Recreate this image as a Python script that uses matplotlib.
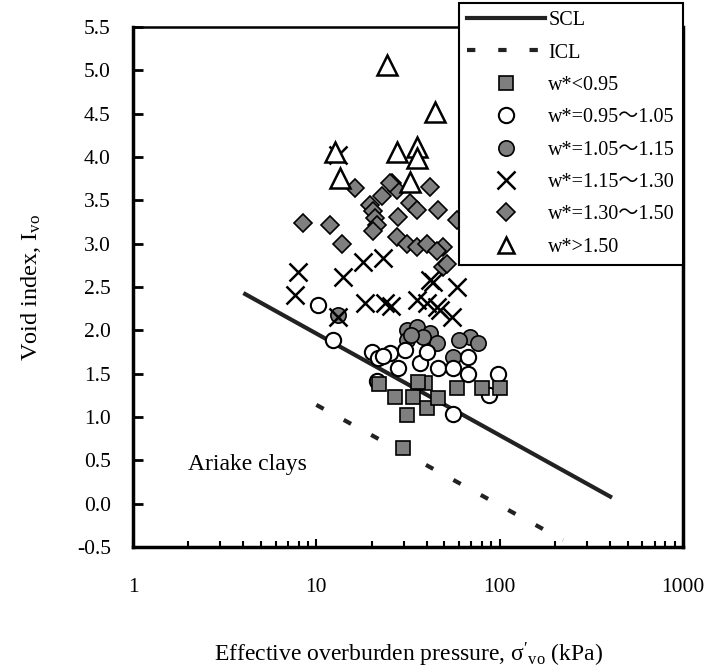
import numpy as np
import matplotlib
matplotlib.use('Agg')
import matplotlib.pyplot as plt
from matplotlib.lines import Line2D

plt.rcParams['font.family'] = ['Liberation Serif', 'Noto Sans CJK JP', 'DejaVu Sans']
plt.rcParams['mathtext.fontset'] = 'custom'
plt.rcParams['mathtext.rm'] = 'Liberation Serif'

# lines (end points)
scl_x = [4.0, 410]
scl_y = [2.43, 0.07]
icl_x = [10, 222]
icl_y = [1.14, -0.42]

# w* < 0.95
sq_x = [26.9, 33.7, 39, 40.2, 31.3, 58.6, 80, 100, 29.8, 36, 46, 22]
sq_y = [1.23, 1.23, 1.39, 1.10, 1.02, 1.33, 1.34, 1.33, 0.64, 1.40, 1.22, 1.38]

# w* = 0.95~1.05
wc_x = [12.3, 20.2, 21.7, 25.2, 30.4, 36.6, 28, 46, 55.7, 67.3, 67.3, 98, 88, 21.4, 55.7, 10.2, 23, 40]
wc_y = [1.89, 1.75, 1.68, 1.74, 1.77, 1.62, 1.57, 1.57, 1.57, 1.69, 1.50, 1.50, 1.25, 1.42, 1.04, 2.29, 1.70, 1.75]

# w* = 1.05~1.15
gc_x = [31.3, 35.4, 41.7, 45.5, 31.3, 55.7, 68.8, 76, 13.1, 38, 60, 33]
gc_y = [2.0, 2.04, 1.97, 1.85, 1.89, 1.69, 1.92, 1.85, 2.18, 1.92, 1.89, 1.95]

# w* = 1.15~1.30
cr_x = [13.1, 7.95, 14.0, 18.0, 23.1, 7.65, 18.4, 23.7, 13.1, 35.4, 41.7, 45.5, 43.3, 58.6, 47.3, 55, 40.2, 25.5]
cr_y = [4.02, 2.67, 2.61, 2.79, 2.84, 2.41, 2.32, 2.31, 2.15, 2.35, 2.58, 2.27, 2.56, 2.50, 2.23, 2.15, 2.31, 2.28]

# w* = 1.30~1.50
dm_x = [8.5, 11.9, 13.8, 16.3, 22.8, 25.9, 27.6, 19.5, 20.5, 21.0, 21.5, 20.5, 28, 32.5, 35.4, 41.7,
        46, 27.6, 31.2, 35.4, 40.2, 49, 49, 58.6, 51.6, 45.5, 25.2]
dm_y = [3.24, 3.21, 3.0, 3.64, 3.55, 3.70, 3.62, 3.45, 3.38, 3.30, 3.22, 3.15, 3.31, 3.47, 3.39, 3.65,
        3.39, 3.08, 3.0, 2.96, 3.0, 2.96, 2.73, 3.27, 2.77, 2.92, 3.70]

# w* > 1.50
tr_x = [24.3, 44.4, 12.6, 27.6, 35.4, 35.4, 13.5, 32.5]
tr_y = [5.06, 4.52, 4.06, 4.06, 4.11, 3.99, 3.76, 3.71]

legend_labels = ['SCL', 'ICL', 'w*<0.95', 'w*=0.95～1.05', 'w*=1.05～1.15',
                 'w*=1.15～1.30', 'w*=1.30～1.50', 'w*>1.50']

grey = '#7f7f7f'
icl_style = (0, (2.0, 5.5))

fig = plt.figure(figsize=(7.17, 6.69), dpi=100)
ax = fig.add_axes([133/717, 1-547/669, 550/717, 520/669])

ax.plot(scl_x, scl_y, color='#222222', lw=3, solid_capstyle='butt')
ax.plot(icl_x, icl_y, color='#222222', lw=3, linestyle=icl_style)

ax.plot(dm_x, dm_y, 'D', ms=9, mfc=grey, mec='black', mew=1.2, ls='none')
ax.plot(gc_x, gc_y, 'o', ms=11, mfc=grey, mec='black', mew=1.2, ls='none')
ax.plot(wc_x, wc_y, 'o', ms=11, mfc='white', mec='black', mew=1.5, ls='none')
ax.plot(sq_x, sq_y, 's', ms=10, mfc=grey, mec='black', mew=1.2, ls='none')
ax.plot(cr_x, cr_y, 'x', ms=13, mec='black', mew=1.8, ls='none')
ax.plot(tr_x, tr_y, '^', ms=14, mfc='white', mec='black', mew=1.8, ls='none')

ax.text(2.0, 0.45, 'Ariake clays', fontsize=17, ha='left', va='center')

ax.set_xscale('log')
ax.set_xlim(1, 1000)
ax.set_ylim(-0.5, 5.5)
ax.set_yticks(np.arange(-0.5, 5.51, 0.5))
ax.set_yticklabels(['%.1f' % v for v in np.arange(-0.5, 5.51, 0.5)])
ax.set_xticks([1, 10, 100, 1000])
ax.set_xticklabels(['1', '10', '100', '1000'])

for s in ax.spines.values():
    s.set_linewidth(2.5)
ax.spines['top'].set_linewidth(1.8)
ax.tick_params(axis='y', direction='in', length=7, width=2, labelsize=15.5, pad=16)
ax.tick_params(axis='x', which='major', direction='in', length=6, width=1.5, labelsize=15.5, pad=22)
ax.tick_params(axis='x', which='minor', direction='in', length=4, width=1.5)

ax.set_ylabel(r'Void index, $\mathregular{I_{vo}}$', fontsize=17.5, labelpad=24)
ax.set_xlabel(r"Effective overburden pressure, $\mathregular{\sigma'_{vo}}$ (kPa)", fontsize=17, labelpad=32)

handles = [
    Line2D([], [], color='#222222', lw=3),
    Line2D([], [], color='#222222', lw=3, linestyle=icl_style),
    Line2D([], [], marker='s', ms=10, mfc=grey, mec='black', mew=1.2, ls='none'),
    Line2D([], [], marker='o', ms=11, mfc='white', mec='black', mew=1.5, ls='none'),
    Line2D([], [], marker='o', ms=11, mfc=grey, mec='black', mew=1.2, ls='none'),
    Line2D([], [], marker='x', ms=13, mec='black', mew=1.8, ls='none'),
    Line2D([], [], marker='D', ms=9, mfc=grey, mec='black', mew=1.2, ls='none'),
    Line2D([], [], marker='^', ms=12, mfc='white', mec='black', mew=1.8, ls='none'),
]
leg = ax.legend(handles, legend_labels, loc='upper right',
                bbox_to_anchor=(683/717, 1-3/669), bbox_transform=fig.transFigure,
                fontsize=14.5, frameon=True, fancybox=False, edgecolor='black',
                framealpha=1, borderpad=0.4, borderaxespad=0, handlelength=3.9,
                handletextpad=0.15, labelspacing=0.66)
leg.get_frame().set_linewidth(1.5)

fig.savefig('out.png', dpi=100)
